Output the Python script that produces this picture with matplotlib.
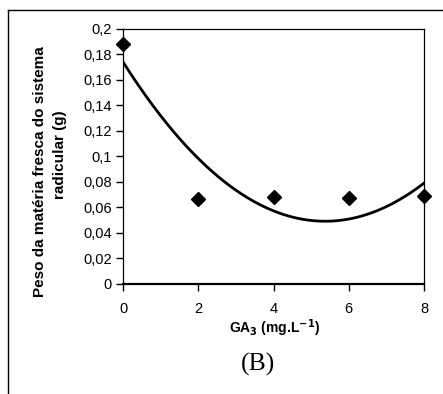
import numpy as np
import matplotlib.pyplot as plt
from matplotlib.lines import Line2D

# doses de GA3 e peso médio da matéria fresca do sistema radicular
doses = [0, 2, 4, 6, 8]
peso = [0.188, 0.067, 0.0685, 0.0675, 0.069]
y_ticks = [0, 0.02, 0.04, 0.06, 0.08, 0.1, 0.12, 0.14, 0.16, 0.18, 0.2]
y_labels = ["0", "0,02", "0,04", "0,06", "0,08", "0,1", "0,12", "0,14", "0,16", "0,18", "0,2"]
x_ticks = [0, 2, 4, 6, 8]

plt.rcParams['font.family'] = ['Liberation Sans', 'DejaVu Sans']

fig = plt.figure(figsize=(4.43, 3.94), dpi=100)
ax = fig.add_axes([0.2777, 0.2792, 0.6795, 0.6472])

# linha de tendência polinomial de 2ª ordem
coef = np.polyfit(doses, peso, 2)
xs = np.linspace(0, 8, 200)
ax.plot(xs, np.polyval(coef, xs), color='black', lw=2, zorder=2)
ax.plot(doses, peso, 'D', color='black', markersize=7.5, clip_on=False, zorder=3)

ax.set_xlim(0, 8)
ax.set_ylim(0, 0.2)
ax.set_xticks(x_ticks)
ax.set_xticklabels([str(v) for v in x_ticks])
ax.set_yticks(y_ticks)
ax.set_yticklabels(y_labels)
ax.tick_params(labelsize=10.5, length=5, width=1, color='black', pad=3)
ax.tick_params(axis='x', pad=8)

for s in ['left', 'right', 'top']:
    ax.spines[s].set_linewidth(0.9)
ax.spines['bottom'].set_linewidth(1.6)

# título do eixo y em duas linhas
fig.text(0.090, 0.5635, "Peso da matéria fresca do sistema", rotation=90,
         ha='center', va='center', fontsize=11, fontweight='bold')
fig.text(0.136, 0.607, "radicular (g)", rotation=90,
         ha='center', va='center', fontsize=11, fontweight='bold')
fig.text(0.62, 0.168, r"GA$_\mathbf{3}$ (mg.L$^\mathbf{-1}$)", ha='center', va='center',
         fontsize=10, fontweight='bold')
fig.text(0.582, 0.074, "(B)", ha='center', va='center', fontsize=18.5,
         family=['Liberation Serif', 'DejaVu Serif'])

# moldura externa
fig.add_artist(Line2D([0.018, 0.018], [0, 0.975], color='black', lw=1, transform=fig.transFigure))
fig.add_artist(Line2D([0.018, 1.0], [0.975, 0.975], color='black', lw=1, transform=fig.transFigure))

fig.savefig("out.png", dpi=100)
